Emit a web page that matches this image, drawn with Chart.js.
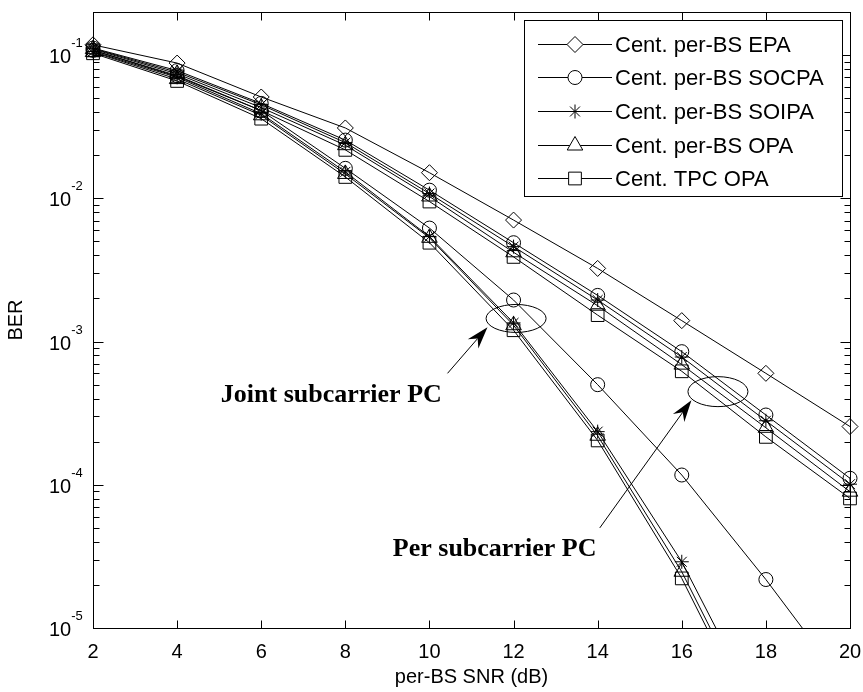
<!DOCTYPE html>
<html>
<head>
<meta charset="utf-8">
<script src="https://cdn.jsdelivr.net/npm/chart.js@4/dist/chart.umd.min.js"></script>
<style>
  html, body { margin: 0; padding: 0; background: #fff; }
  #wrap { width: 863px; height: 692px; }
</style>
</head>
<body>
<div id="wrap"><canvas id="myChart" width="863" height="692"></canvas></div>
<script>
// x axis: per-BS SNR (dB)
const snr = [2, 4, 6, 8, 10, 12, 14, 16, 18, 20];

// BER curves
const epa        = [0.118, 0.088, 0.051, 0.031, 0.0151, 0.00705, 0.00324, 0.0014, 0.0006, 0.000255];
// per subcarrier PC group
const socpaPer   = [0.112, 0.078, 0.046, 0.0255, 0.0114, 0.0049, 0.0021, 0.00085, 0.000307, 0.000111];
const soipaPer   = [0.111, 0.076, 0.045, 0.0245, 0.0108, 0.0046, 0.00195, 0.00078, 0.00028, 0.000101];
const opaPer     = [0.110, 0.074, 0.043, 0.0235, 0.0103, 0.0042, 0.00178, 0.00069, 0.00025, 0.0000895];
const tpcPer     = [0.108, 0.071, 0.041, 0.0218, 0.0095, 0.0039, 0.00153, 0.00062, 0.000216, 0.0000803];
// joint subcarrier PC group
const socpaJoint = [0.108, 0.072, 0.041, 0.0162, 0.0062, 0.00195, 0.0005, 0.000117, 0.0000218, 0.0000036];
const soipaJoint = [0.106, 0.070, 0.039, 0.0153, 0.0054, 0.00135, 0.000235, 0.000029, 0.0000021, null];
const opaJoint   = [0.105, 0.068, 0.038, 0.0148, 0.0053, 0.0013, 0.00022, 0.0000247, 0.0000017, null];
const tpcJoint   = [0.103, 0.066, 0.036, 0.0141, 0.0049, 0.0012, 0.000204, 0.0000222, 0.0000015, null];

const seriesNames = ['Cent. per-BS EPA', 'Cent. per-BS SOCPA', 'Cent. per-BS SOIPA', 'Cent. per-BS OPA', 'Cent. TPC OPA'];

// tick labels
const xTicks = [2, 4, 6, 8, 10, 12, 14, 16, 18, 20];
const yExponents = [-5, -4, -3, -2, -1];
const yMinor = [2, 3, 4, 5, 6, 7, 8, 9];

function makeSet(label, values, style, radius, inLegend) {
  return {
    label: label,
    data: snr.map((x, i) => ({ x: x, y: values[i] })),
    borderColor: '#000',
    borderWidth: 1,
    pointStyle: style,
    pointRadius: radius,
    pointHoverRadius: radius,
    pointBorderColor: '#000',
    pointBorderWidth: 1,
    pointBackgroundColor: 'rgba(0,0,0,0)',
    fill: false,
    tension: 0,
    clip: { left: 12, right: 12, top: 12, bottom: 0 },
    inLegend: inLegend
  };
}

const datasets = [
  makeSet(seriesNames[0], epa, 'rectRot', 8, true),
  makeSet(seriesNames[1], socpaPer, 'circle', 7, true),
  makeSet(seriesNames[2], soipaPer, 'star', 7, true),
  makeSet(seriesNames[3], opaPer, 'triangle', 9, true),
  makeSet(seriesNames[4], tpcPer, 'rect', 9, true),
  makeSet(seriesNames[1], socpaJoint, 'circle', 7, false),
  makeSet(seriesNames[2], soipaJoint, 'star', 7, false),
  makeSet(seriesNames[3], opaJoint, 'triangle', 9, false),
  makeSet(seriesNames[4], tpcJoint, 'rect', 9, false)
];

function arrow(ctx, x0, y0, x1, y1) {
  const dx = x1 - x0, dy = y1 - y0;
  const len = Math.sqrt(dx * dx + dy * dy);
  const ux = dx / len, uy = dy / len;
  const px = -uy, py = ux;
  const L = 22, W = 7, N = 15;
  ctx.beginPath();
  ctx.moveTo(x0, y0);
  ctx.lineTo(x1 - ux * N, y1 - uy * N);
  ctx.stroke();
  ctx.beginPath();
  ctx.moveTo(x1, y1);
  ctx.lineTo(x1 - ux * L + px * W, y1 - uy * L + py * W);
  ctx.lineTo(x1 - ux * N, y1 - uy * N);
  ctx.lineTo(x1 - ux * L - px * W, y1 - uy * L - py * W);
  ctx.closePath();
  ctx.fill();
}

const matlabLook = {
  id: 'matlabLook',
  afterDraw(chart) {
    const ctx = chart.ctx;
    const a = chart.chartArea;
    const xs = chart.scales.x, ys = chart.scales.y;
    const L = Math.round(a.left) + 0.5, R = Math.round(a.right) + 0.5;
    const T = Math.round(a.top) + 0.5, B = Math.round(a.bottom) + 0.5;
    ctx.save();
    ctx.strokeStyle = '#000';
    ctx.fillStyle = '#000';
    ctx.lineWidth = 1;

    // box
    ctx.strokeRect(L, T, R - L, B - T);

    // x ticks, inward on bottom and top
    ctx.beginPath();
    xTicks.forEach(v => {
      const px = Math.round(xs.getPixelForValue(v)) + 0.5;
      ctx.moveTo(px, B); ctx.lineTo(px, B - 8);
      ctx.moveTo(px, T); ctx.lineTo(px, T + 8);
    });
    // y ticks, major and minor on left and right
    yExponents.forEach(e => {
      const base = Math.pow(10, e);
      const py = Math.round(ys.getPixelForValue(base)) + 0.5;
      ctx.moveTo(L, py); ctx.lineTo(L + 10, py);
      ctx.moveTo(R, py); ctx.lineTo(R - 10, py);
      yMinor.forEach(m => {
        const v = m * base;
        if (v > ys.max) return;
        const pm = Math.round(ys.getPixelForValue(v)) + 0.5;
        ctx.moveTo(L, pm); ctx.lineTo(L + 6, pm);
        ctx.moveTo(R, pm); ctx.lineTo(R - 6, pm);
      });
    });
    ctx.stroke();

    // tick labels
    ctx.font = '20px "Liberation Sans", Arial, sans-serif';
    ctx.textAlign = 'center';
    ctx.textBaseline = 'alphabetic';
    xTicks.forEach(v => {
      ctx.fillText(String(v), xs.getPixelForValue(v), 658);
    });
    yExponents.forEach(e => {
      const py = ys.getPixelForValue(Math.pow(10, e));
      ctx.font = '20px "Liberation Sans", Arial, sans-serif';
      ctx.textAlign = 'left';
      ctx.fillText('10', 49, py + 8);
      const w = ctx.measureText('10').width;
      ctx.font = '13px "Liberation Sans", Arial, sans-serif';
      ctx.fillText(String(e), 49 + w, py - 8);
    });

    // axis titles
    ctx.font = '20px "Liberation Sans", Arial, sans-serif';
    ctx.textAlign = 'center';
    ctx.textBaseline = 'middle';
    ctx.fillText('per-BS SNR (dB)', (a.left + a.right) / 2, 677);
    ctx.save();
    ctx.translate(16, (a.top + a.bottom) / 2);
    ctx.rotate(-Math.PI / 2);
    ctx.fillText('BER', 0, 0);
    ctx.restore();

    // ellipses marking the two groups
    ctx.beginPath();
    ctx.ellipse(xs.getPixelForValue(12.06), ys.getPixelForValue(0.00145), 30, 14, 0, 0, Math.PI * 2);
    ctx.stroke();
    ctx.beginPath();
    ctx.ellipse(xs.getPixelForValue(16.86), ys.getPixelForValue(0.000447), 30, 15, 0, 0, Math.PI * 2);
    ctx.stroke();

    // arrows
    arrow(ctx, xs.getPixelForValue(10.43), ys.getPixelForValue(0.0006),
               xs.getPixelForValue(11.38), ys.getPixelForValue(0.00126));
    arrow(ctx, xs.getPixelForValue(14.05), ys.getPixelForValue(0.00005),
               xs.getPixelForValue(16.23), ys.getPixelForValue(0.00039));

    // annotation text
    ctx.font = 'bold 26px "Liberation Serif", "Times New Roman", serif';
    ctx.textBaseline = 'alphabetic';
    ctx.textAlign = 'left';
    ctx.fillText('Joint subcarrier PC', xs.getPixelForValue(5.04), ys.getPixelForValue(0.00038));
    ctx.textAlign = 'right';
    ctx.fillText('Per subcarrier PC', xs.getPixelForValue(13.97), ys.getPixelForValue(0.0000318));

    // legend box
    const items = chart.data.datasets.filter(d => d.inLegend);
    const bx = 524.5, by = 20.5, bw = 318, bh = 176;
    ctx.fillStyle = '#fff';
    ctx.fillRect(bx, by, bw, bh);
    ctx.strokeRect(bx, by, bw, bh);
    ctx.font = '22px "Liberation Sans", Arial, sans-serif';
    ctx.textAlign = 'left';
    ctx.textBaseline = 'middle';
    items.forEach((d, i) => {
      const ly = Math.round(by + 23 + i * 33.7) + 0.5;
      ctx.beginPath();
      ctx.moveTo(538, ly); ctx.lineTo(612, ly);
      ctx.stroke();
      ctx.fillStyle = '#fff';
      ctx.strokeStyle = '#000';
      Chart.helpers.drawPoint(ctx, {
        pointStyle: d.pointStyle, radius: d.pointRadius, rotation: 0, borderWidth: 1
      }, 575, ly);
      ctx.fillStyle = '#000';
      ctx.fillText(d.label, 615, ly + 1);
    });
    ctx.restore();
  }
};

const ctx = document.getElementById('myChart');

let berChart = new Chart(ctx, {
  type: 'line',
  data: { datasets: datasets },
  options: {
    responsive: false,
    animation: false,
    devicePixelRatio: 1,
    layout: { padding: { left: 0, top: 12, right: 13, bottom: 0 } },
    plugins: { legend: { display: false }, tooltip: { enabled: false } },
    scales: {
      x: {
        type: 'linear', min: 2, max: 20,
        grid: { display: false }, border: { display: false },
        ticks: { display: false },
        afterFit: s => { s.height = 64; }
      },
      y: {
        type: 'logarithmic', min: 1e-5, max: 0.2,
        grid: { display: false }, border: { display: false },
        ticks: { display: false },
        afterFit: s => { s.width = 93; }
      }
    }
  },
  plugins: [matlabLook]
});
</script>
</body>
</html>
